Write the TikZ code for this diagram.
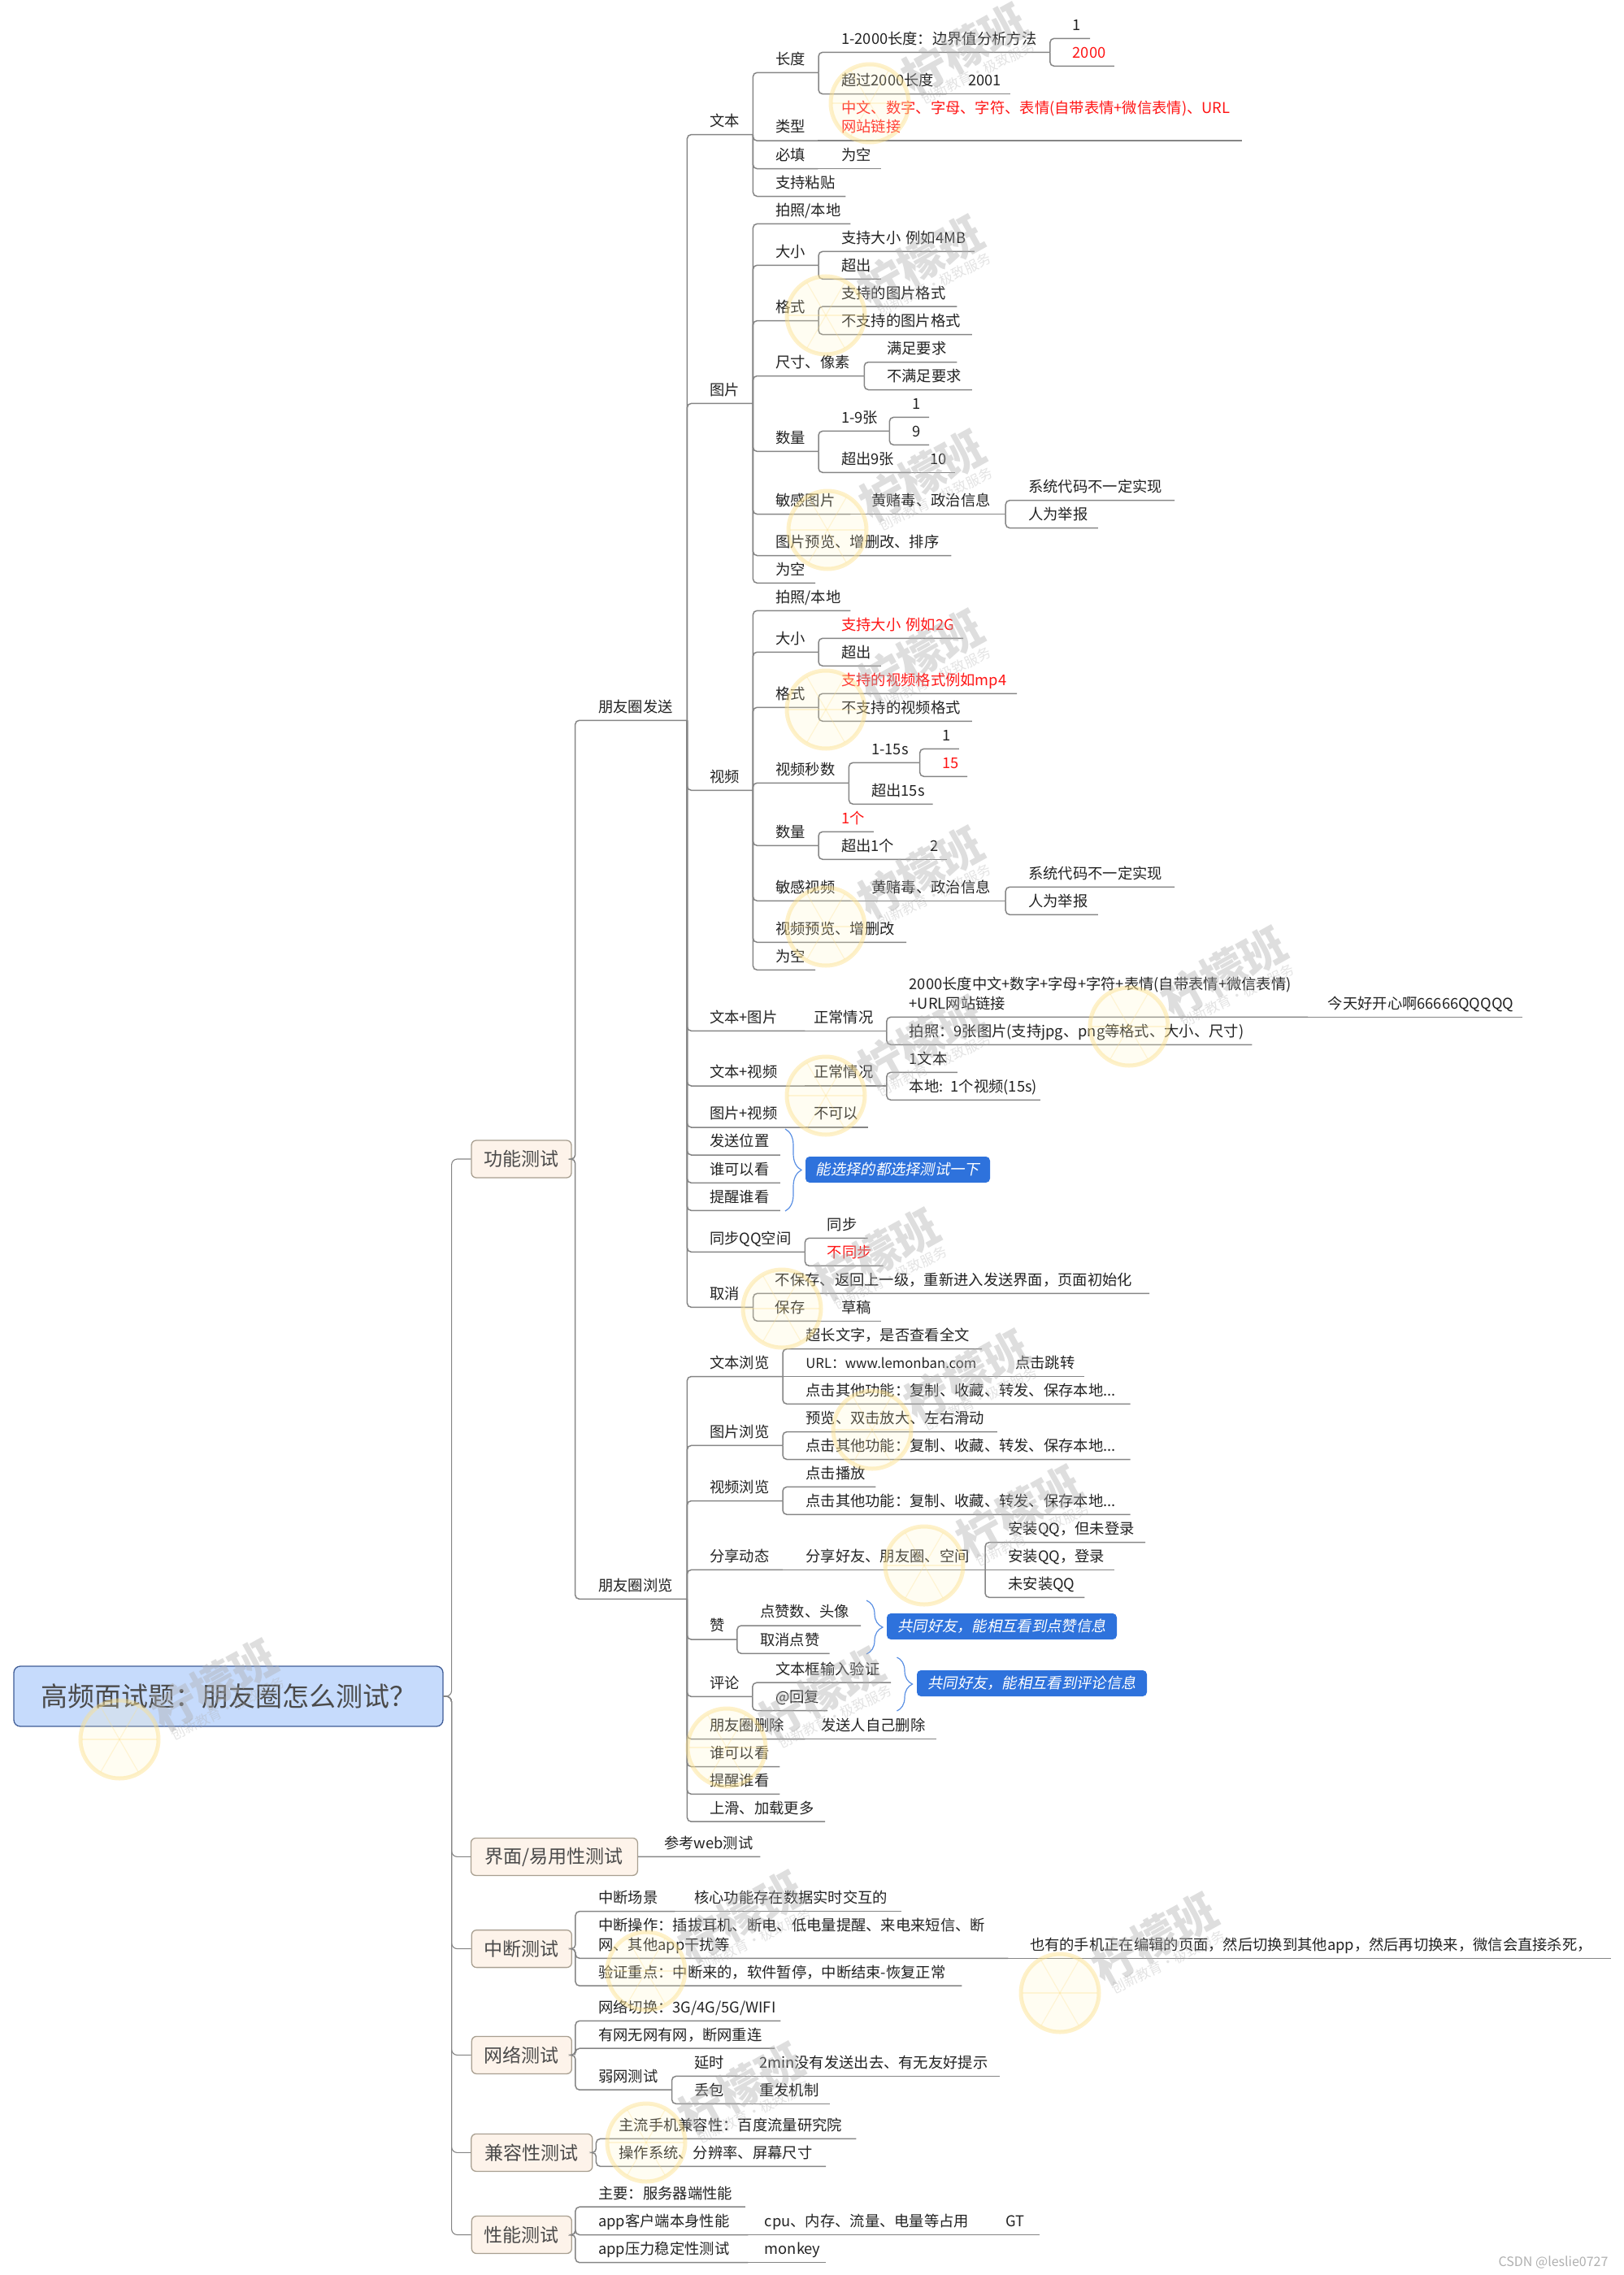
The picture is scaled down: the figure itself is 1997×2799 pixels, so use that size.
\documentclass[tikz,border=0pt]{standalone}
\usepackage{fontspec}
\setmainfont{Noto Sans CJK SC}
\newfontfamily\tagfont[FakeSlant=0.2]{Noto Sans CJK SC}
\usepackage{xcolor}
\usepackage{tikz}
\usetikzlibrary{decorations.pathreplacing}
\definecolor{ink}{HTML}{222222}
\definecolor{hotred}{HTML}{FF1414}
\definecolor{wiregrey}{HTML}{858585}
\definecolor{rootfill}{HTML}{C6DBFC}
\definecolor{rootedge}{HTML}{3F5C96}
\definecolor{rootink}{HTML}{4A4A4A}
\definecolor{topicfill}{HTML}{FDF3EA}
\definecolor{topicedge}{HTML}{A89F90}
\definecolor{tagblue}{HTML}{2E72DC}
\definecolor{stampgrey}{HTML}{B0B0B0}
\definecolor{lemonedge}{HTML}{FCE08A}
\definecolor{lemonfill}{HTML}{FFF3C0}

\begin{document}
\begin{tikzpicture}[
  x=1pt,y=-1pt,
  rootbox/.style={draw=rootedge,fill=rootfill,line width=1.3pt,rounded corners=8pt,text=rootink,
                  font=\fontsize{33}{38}\selectfont,minimum width=528pt,minimum height=74pt,inner sep=0pt},
  topic/.style={draw=topicedge,fill=topicfill,line width=1.3pt,rounded corners=6pt,text=rootink,
                font=\fontsize{23}{28}\selectfont,minimum width=#1pt,minimum height=46pt,inner sep=0pt},
  leaf/.style={anchor=south west,inner sep=0pt,text width=#1pt,align=left,text depth=10pt,
               font=\fontsize{18.3}{23.6}\selectfont,text=ink},
  twolines/.style={text depth=33.6pt},
  hot/.style={text=hotred},
  wire/.style={draw=wiregrey,line width=1.5pt,rounded corners=5pt},
  thinwire/.style={draw=wiregrey,line width=1.1pt,rounded corners=7pt},
  curly/.style={draw=tagblue!80,line width=1.2pt,decorate,decoration={brace,amplitude=#1pt}},
  tagnote/.style={fill=tagblue,rounded corners=5pt,text=white,font=\tagfont\fontsize{18.3}{23}\selectfont,
                  minimum width=#1pt,minimum height=32pt,inner sep=0pt},
  stamp/.style={text=stampgrey,opacity=.42,rotate=29,font=\fontsize{55}{60}\selectfont\bfseries},
  stampsub/.style={text=stampgrey,opacity=.35,rotate=26,font=\fontsize{17}{20}\selectfont},
  lemon/.style={draw=lemonedge,fill=lemonfill,line width=5pt,draw opacity=.45,fill opacity=.2},
  lemonspoke/.style={draw=lemonedge,line width=1.2pt,opacity=.3}
]
  \useasboundingbox (0,0) rectangle (1997,2799);

  \node[rootbox] (root) at (281,2087) {高频面试题：朋友圈怎么测试？};
  \coordinate (hub) at (555.6,2087);
  \node[topic=123] (func) at (641.5,1426) {功能测试};
  \node[topic=205] (ui) at (681.9,2284.4) {界面/易用性测试};
  \node[topic=123] (stop) at (641.8,2397.6) {中断测试};
  \node[topic=123] (net) at (641.8,2528.4) {网络测试};
  \node[topic=149] (compat) at (654.3,2648.4) {兼容性测试};
  \node[topic=123] (perf) at (641.8,2749.5) {性能测试};

  \draw[thinwire] (root.east) -- (hub) |- (func.west);
  \draw[thinwire] (root.east) -- (hub) |- (ui.west);
  \draw[thinwire] (root.east) -- (hub) |- (stop.west);
  \draw[thinwire] (root.east) -- (hub) |- (net.west);
  \draw[thinwire] (root.east) -- (hub) |- (compat.west);
  \draw[thinwire] (root.east) -- (hub) |- (perf.west);

  \node[leaf=109] (send) at (736,886.3) {朋友圈发送};
  \node[leaf=109] (browse) at (736,1967.3) {朋友圈浏览};
  \draw[wire] (func.east) -- ++(4,0) |- (send.south east);
  \draw[wire] (func.east) -- ++(4,0) |- (browse.south east);

  \node[leaf=53] (txt) at (873,165.6) {文本};
  \node[leaf=52.6] (txtLen) at (954,89.3) {长度};
  \node[leaf=256.4] (txtRange) at (1035,64.3) {1-2000长度：边界值分析方法};
  \node[leaf=21.2] (txtOne) at (1319.5,47.3) {1};
  \node[leaf=51,hot] (txtMax) at (1319.5,81.3) {2000};
  \node[leaf=129] (txtOver) at (1035,115.6) {超过2000长度};
  \node[leaf=51.6] (txtOverVal) at (1191,115.6) {2001};
  \node[leaf=52] (txtKind) at (954,173.2) {类型};
  \node[leaf=493,hot,twolines] (txtKindVal) at (1035,173.2) {中文、数字、字母、字符、表情(自带表情+微信表情)、URL\\网站链接};
  \node[leaf=52] (txtReq) at (954,207.6) {必填};
  \node[leaf=48.5] (txtReqVal) at (1035,207.6) {为空};
  \node[leaf=86] (txtPaste) at (954,241.5) {支持粘贴};

  \draw[wire] (send.south east) |- (txt.south east);
  \draw[wire] (txt.south east) |- (txtLen.south east);
  \draw[wire] (txtLen.south east) |- (txtRange.south east);
  \draw[wire] (txtRange.south east) |- (txtOne.south east);
  \draw[wire] (txtRange.south east) |- (txtMax.south east);
  \draw[wire] (txtLen.south east) |- (txtOver.south east);
  \draw[wire] (txtOver.south east) -- (txtOverVal.south east);
  \draw[wire] (txt.south east) |- (txtKind.south east);
  \draw[wire] (txtKind.south east) -- (txtKindVal.south east);
  \draw[wire] (txt.south east) |- (txtReq.south east);
  \draw[wire] (txtReq.south east) -- (txtReqVal.south east);
  \draw[wire] (txt.south east) |- (txtPaste.south east);

  \node[leaf=53] (pic) at (873,496.4) {图片};
  \node[leaf=92] (picSrc) at (954,275.4) {拍照/本地};
  \node[leaf=52.6] (picSize) at (954,326.3) {大小};
  \node[leaf=163.4] (picSizeOk) at (1035,309.4) {支持大小 例如4MB};
  \node[leaf=48.5] (picSizeOver) at (1035,343.3) {超出};
  \node[leaf=52.6] (picFmt) at (954,394.6) {格式};
  \node[leaf=142] (picFmtOk) at (1035,377.2) {支持的图片格式};
  \node[leaf=160.5] (picFmtBad) at (1035,411.6) {不支持的图片格式};
  \node[leaf=108.9] (picDim) at (954,462.5) {尺寸、像素};
  \node[leaf=86] (picDimOk) at (1091,445.5) {满足要求};
  \node[leaf=104.5] (picDimBad) at (1091,479.5) {不满足要求};
  \node[leaf=52.6] (picNum) at (954,555.4) {数量};
  \node[leaf=58.9] (picNumOk) at (1035,530.4) {1-9张};
  \node[leaf=20.7] (picNumMin) at (1122,513.4) {1};
  \node[leaf=20.7] (picNumMax) at (1122,547.3) {9};
  \node[leaf=85] (picNumOver) at (1035,581.3) {超出9张};
  \node[leaf=31] (picNumVal) at (1143.8,581.3) {10};
  \node[leaf=92] (picRisk) at (954,632.6) {敏感图片};
  \node[leaf=164.8] (picRiskVal) at (1072,632.6) {黄赌毒、政治信息};
  \node[leaf=179.6] (picRiskSys) at (1265,615.6) {系统代码不一定实现};
  \node[leaf=85.5] (picRiskMan) at (1265,649.6) {人为举报};
  \node[leaf=216] (picEdit) at (954,683.5) {图片预览、增删改、排序};
  \node[leaf=48.6] (picNone) at (954,717.3) {为空};

  \draw[wire] (send.south east) |- (pic.south east);
  \draw[wire] (pic.south east) |- (picSrc.south east);
  \draw[wire] (pic.south east) |- (picSize.south east);
  \draw[wire] (picSize.south east) |- (picSizeOk.south east);
  \draw[wire] (picSize.south east) |- (picSizeOver.south east);
  \draw[wire] (pic.south east) |- (picFmt.south east);
  \draw[wire] (picFmt.south east) |- (picFmtOk.south east);
  \draw[wire] (picFmt.south east) |- (picFmtBad.south east);
  \draw[wire] (pic.south east) |- (picDim.south east);
  \draw[wire] (picDim.south east) |- (picDimOk.south east);
  \draw[wire] (picDim.south east) |- (picDimBad.south east);
  \draw[wire] (pic.south east) |- (picNum.south east);
  \draw[wire] (picNum.south east) |- (picNumOk.south east);
  \draw[wire] (picNumOk.south east) |- (picNumMin.south east);
  \draw[wire] (picNumOk.south east) |- (picNumMax.south east);
  \draw[wire] (picNum.south east) |- (picNumOver.south east);
  \draw[wire] (picNumOver.south east) -- (picNumVal.south east);
  \draw[wire] (pic.south east) |- (picRisk.south east);
  \draw[wire] (picRisk.south east) -- (picRiskVal.south east);
  \draw[wire] (picRiskVal.south east) |- (picRiskSys.south east);
  \draw[wire] (picRiskVal.south east) |- (picRiskMan.south east);
  \draw[wire] (pic.south east) |- (picEdit.south east);
  \draw[wire] (pic.south east) |- (picNone.south east);

  \node[leaf=53] (vid) at (873,972.3) {视频};
  \node[leaf=92] (vidSrc) at (954,751.3) {拍照/本地};
  \node[leaf=52.6] (vidSize) at (954,802.3) {大小};
  \node[leaf=149.6,hot] (vidSizeOk) at (1035,785.3) {支持大小 例如2G};
  \node[leaf=48.5] (vidSizeOver) at (1035,819.3) {超出};
  \node[leaf=52.6] (vidFmt) at (954,870.3) {格式};
  \node[leaf=215.6,hot] (vidFmtOk) at (1035,853.3) {支持的视频格式例如mp4};
  \node[leaf=160.5] (vidFmtBad) at (1035,887.3) {不支持的视频格式};
  \node[leaf=90] (vidSec) at (954,963.3) {视频秒数};
  \node[leaf=59.2] (vidSecOk) at (1072,938.3) {1-15s};
  \node[leaf=20.1] (vidSecMin) at (1159.3,921.3) {1};
  \node[leaf=30.5,hot] (vidSecMax) at (1159.3,955.3) {15};
  \node[leaf=75.3] (vidSecOver) at (1072,989.3) {超出15s};
  \node[leaf=52.6] (vidNum) at (954,1040.3) {数量};
  \node[leaf=39.4,hot] (vidNumOk) at (1035,1023.3) {1个};
  \node[leaf=85] (vidNumOver) at (1035,1057.3) {超出1个};
  \node[leaf=21.2] (vidNumVal) at (1143.8,1057.3) {2};
  \node[leaf=92] (vidRisk) at (954,1108.3) {敏感视频};
  \node[leaf=164.8] (vidRiskVal) at (1072,1108.3) {黄赌毒、政治信息};
  \node[leaf=179.6] (vidRiskSys) at (1265,1091.3) {系统代码不一定实现};
  \node[leaf=85.5] (vidRiskMan) at (1265,1125.3) {人为举报};
  \node[leaf=160.6] (vidEdit) at (954,1159.3) {视频预览、增删改};
  \node[leaf=48.6] (vidNone) at (954,1193.3) {为空};

  \draw[wire] (send.south east) |- (vid.south east);
  \draw[wire] (vid.south east) |- (vidSrc.south east);
  \draw[wire] (vid.south east) |- (vidSize.south east);
  \draw[wire] (vidSize.south east) |- (vidSizeOk.south east);
  \draw[wire] (vidSize.south east) |- (vidSizeOver.south east);
  \draw[wire] (vid.south east) |- (vidFmt.south east);
  \draw[wire] (vidFmt.south east) |- (vidFmtOk.south east);
  \draw[wire] (vidFmt.south east) |- (vidFmtBad.south east);
  \draw[wire] (vid.south east) |- (vidSec.south east);
  \draw[wire] (vidSec.south east) |- (vidSecOk.south east);
  \draw[wire] (vidSecOk.south east) |- (vidSecMin.south east);
  \draw[wire] (vidSecOk.south east) |- (vidSecMax.south east);
  \draw[wire] (vidSec.south east) |- (vidSecOver.south east);
  \draw[wire] (vid.south east) |- (vidNum.south east);
  \draw[wire] (vidNum.south east) |- (vidNumOk.south east);
  \draw[wire] (vidNum.south east) |- (vidNumOver.south east);
  \draw[wire] (vidNumOver.south east) -- (vidNumVal.south east);
  \draw[wire] (vid.south east) |- (vidRisk.south east);
  \draw[wire] (vidRisk.south east) -- (vidRiskVal.south east);
  \draw[wire] (vidRiskVal.south east) |- (vidRiskSys.south east);
  \draw[wire] (vidRiskVal.south east) |- (vidRiskMan.south east);
  \draw[wire] (vid.south east) |- (vidEdit.south east);
  \draw[wire] (vid.south east) |- (vidNone.south east);

  \node[leaf=117] (txtPic) at (873,1268.3) {文本+图片};
  \node[leaf=89.5] (txtPicVal) at (1001,1268.3) {正常情况};
  \node[leaf=490,twolines] (txtPicA) at (1118.6,1251.3) {2000长度中文+数字+字母+字符+表情(自带表情+微信表情)\\+URL网站链接};
  \node[leaf=238.8] (txtPicEg) at (1633.6,1251.3) {今天好开心啊66666QQQQQ};
  \node[leaf=421.4] (txtPicB) at (1118.6,1285.3) {拍照：9张图片(支持jpg、png等格式、大小、尺寸)};
  \node[leaf=117] (txtVid) at (873,1336) {文本+视频};
  \node[leaf=89.5] (txtVidVal) at (1001,1336) {正常情况};
  \node[leaf=58.9] (txtVidA) at (1118.6,1319.3) {1文本};
  \node[leaf=160.9] (txtVidB) at (1118.6,1353.3) {本地: 1个视频(15s)};
  \node[leaf=117] (picVid) at (873,1387) {图片+视频};
  \node[leaf=67] (picVidVal) at (1001,1387) {不可以};
  \node[leaf=86.4] (sendWhere) at (873,1421) {发送位置};
  \node[leaf=86.4] (sendWho) at (873,1455.3) {谁可以看};
  \node[leaf=86.4] (sendAt) at (873,1489.3) {提醒谁看};
  \node[tagnote=227] (tagChoose) at (1104.5,1439) {能选择的都选择测试一下};
  \coordinate (chooseTop) at (966,1389);
  \coordinate (chooseEnd) at (966,1490);
  \node[leaf=117] (qq) at (873,1540.3) {同步QQ空间};
  \node[leaf=49.7] (qqYes) at (1017.5,1523.3) {同步};
  \node[leaf=68.8,hot] (qqNo) at (1017.5,1557.3) {不同步};
  \node[leaf=53.3] (cancel) at (873,1608.3) {取消};
  \node[leaf=460.2] (cancelDrop) at (953.6,1591.3) {不保存、返回上一级，重新进入发送界面，页面初始化};
  \node[leaf=54] (cancelKeep) at (953.6,1625.3) {保存};
  \node[leaf=48.8] (cancelDraft) at (1035,1625.3) {草稿};

  \draw[wire] (send.south east) |- (txtPic.south east);
  \draw[wire] (txtPic.south east) -- (txtPicVal.south east);
  \draw[wire] (txtPicVal.south east) |- (txtPicA.south east);
  \draw[wire] (txtPicA.south east) -- (txtPicEg.south east);
  \draw[wire] (txtPicVal.south east) |- (txtPicB.south east);
  \draw[wire] (send.south east) |- (txtVid.south east);
  \draw[wire] (txtVid.south east) -- (txtVidVal.south east);
  \draw[wire] (txtVidVal.south east) |- (txtVidA.south east);
  \draw[wire] (txtVidVal.south east) |- (txtVidB.south east);
  \draw[wire] (send.south east) |- (picVid.south east);
  \draw[wire] (picVid.south east) -- (picVidVal.south east);
  \draw[wire] (send.south east) |- (sendWhere.south east);
  \draw[wire] (send.south east) |- (sendWho.south east);
  \draw[wire] (send.south east) |- (sendAt.south east);
  \draw[curly=20] (chooseTop) -- (chooseEnd);
  \draw[wire] (send.south east) |- (qq.south east);
  \draw[wire] (qq.south east) |- (qqYes.south east);
  \draw[wire] (qq.south east) |- (qqNo.south east);
  \draw[wire] (send.south east) |- (cancel.south east);
  \draw[wire] (cancel.south east) |- (cancelDrop.south east);
  \draw[wire] (cancel.south east) |- (cancelKeep.south east);
  \draw[wire] (cancelKeep.south east) -- (cancelDraft.south east);

  \node[leaf=89.6] (viewTxt) at (873,1693.5) {文本浏览};
  \node[leaf=216.4] (viewTxtLong) at (991.2,1659.6) {超长文字，是否查看全文};
  \node[leaf=234,font=\fontsize{16.7}{23.6}\selectfont] (viewTxtUrl) at (991.2,1693.5) {URL：www.lemonban.com};
  \node[leaf=85.1] (viewTxtJump) at (1248.9,1693.5) {点击跳转};
  \node[leaf=399] (viewTxtMore) at (991.2,1727.3) {点击其他功能：复制、收藏、转发、保存本地...};
  \node[leaf=89.6] (viewPic) at (873,1778.4) {图片浏览};
  \node[leaf=235.2] (viewPicZoom) at (991.2,1761.6) {预览、双击放大、左右滑动};
  \node[leaf=399] (viewPicMore) at (991.2,1795.5) {点击其他功能：复制、收藏、转发、保存本地...};
  \node[leaf=89.6] (viewVid) at (873,1846.5) {视频浏览};
  \node[leaf=85.8] (viewVidPlay) at (991.2,1829.4) {点击播放};
  \node[leaf=399] (viewVidMore) at (991.2,1863.3) {点击其他功能：复制、收藏、转发、保存本地...};
  \node[leaf=89.6] (share) at (873,1931.4) {分享动态};
  \node[leaf=220.4] (shareTo) at (991.2,1931.4) {分享好友、朋友圈、空间};
  \node[leaf=168.4] (shareA) at (1240.2,1897.6) {安装QQ，但未登录};
  \node[leaf=130.1] (shareB) at (1240.2,1931.4) {安装QQ，登录};
  \node[leaf=93.8] (shareC) at (1240.2,1965.3) {未安装QQ};
  \node[leaf=33.5] (like) at (873,2017.1) {赞};
  \node[leaf=123.5] (likeNum) at (935.1,2000) {点赞数、头像};
  \node[leaf=85.2] (likeOff) at (935.1,2034.3) {取消点赞};
  \node[tagnote=283] (tagLike) at (1232.5,2001) {共同好友，能相互看到点赞信息};
  \coordinate (likeTop) at (1066,1969);
  \coordinate (likeEnd) at (1066,2035);
  \node[leaf=52.4] (reply) at (873,2087.3) {评论};
  \node[leaf=141.8] (replyBox) at (954,2070.2) {文本框输入验证};
  \node[leaf=63.8] (replyAt) at (954,2104.5) {@回复};
  \node[tagnote=283] (tagReply) at (1269.5,2071) {共同好友，能相互看到评论信息};
  \coordinate (replyTop) at (1103.5,2039);
  \coordinate (replyEnd) at (1103.5,2105);
  \node[leaf=117] (erase) at (873,2139.6) {朋友圈删除};
  \node[leaf=141.4] (eraseBy) at (1010,2139.6) {发送人自己删除};
  \node[leaf=86] (viewWho) at (873,2173.5) {谁可以看};
  \node[leaf=86] (viewAt) at (873,2207.3) {提醒谁看};
  \node[leaf=141.7] (viewLoad) at (873,2241.2) {上滑、加载更多};

  \draw[wire] (browse.south east) |- (viewTxt.south east);
  \draw[wire] (viewTxt.south east) |- (viewTxtLong.south east);
  \draw[wire] (viewTxt.south east) -- (viewTxtUrl.south east);
  \draw[wire] (viewTxtUrl.south east) -- (viewTxtJump.south east);
  \draw[wire] (viewTxt.south east) |- (viewTxtMore.south east);
  \draw[wire] (browse.south east) |- (viewPic.south east);
  \draw[wire] (viewPic.south east) |- (viewPicZoom.south east);
  \draw[wire] (viewPic.south east) |- (viewPicMore.south east);
  \draw[wire] (browse.south east) |- (viewVid.south east);
  \draw[wire] (viewVid.south east) |- (viewVidPlay.south east);
  \draw[wire] (viewVid.south east) |- (viewVidMore.south east);
  \draw[wire] (browse.south east) |- (share.south east);
  \draw[wire] (share.south east) -- (shareTo.south east);
  \draw[wire] (shareTo.south east) |- (shareA.south east);
  \draw[wire] (shareTo.south east) -- (shareB.south east);
  \draw[wire] (shareTo.south east) |- (shareC.south east);
  \draw[wire] (browse.south east) |- (like.south east);
  \draw[wire] (like.south east) |- (likeNum.south east);
  \draw[wire] (like.south east) |- (likeOff.south east);
  \draw[curly=20] (likeTop) -- (likeEnd);
  \draw[wire] (browse.south east) |- (reply.south east);
  \draw[wire] (reply.south east) |- (replyBox.south east);
  \draw[wire] (reply.south east) |- (replyAt.south east);
  \draw[curly=19] (replyTop) -- (replyEnd);
  \draw[wire] (browse.south east) |- (erase.south east);
  \draw[wire] (erase.south east) -- (eraseBy.south east);
  \draw[wire] (browse.south east) |- (viewWho.south east);
  \draw[wire] (browse.south east) |- (viewAt.south east);
  \draw[wire] (browse.south east) |- (viewLoad.south east);

  \node[leaf=118] (uiRef) at (817,2284.3) {参考web测试};
  \draw[wire] (ui.east) -- (uiRef.south east);

  \node[leaf=94] (stopWhen) at (736,2351.6) {中断场景};
  \node[leaf=254.8] (stopWhenVal) at (854,2351.6) {核心功能存在数据实时交互的};
  \node[leaf=504,twolines] (stopHow) at (736,2409.3) {中断操作：插拔耳机、断电、低电量提醒、来电来短信、断\\网、其他app干扰等};
  \node[leaf=714.7] (stopNote) at (1266.8,2409.3) {也有的手机正在编辑的页面，然后切换到其他app，然后再切换来，微信会直接杀死，};
  \node[leaf=447] (stopCheck) at (736,2443.2) {验证重点：中断来的，软件暂停，中断结束-恢复正常};

  \draw[wire] (stop.east) -- ++(4,0) |- (stopWhen.south east);
  \draw[wire] (stopWhen.south east) -- (stopWhenVal.south east);
  \draw[wire] (stop.east) -- ++(4,0) |- (stopHow.south east);
  \draw[wire] (stopHow.south east) -- (stopNote.south east);
  \draw[wire] (stop.east) -- ++(4,0) |- (stopCheck.south east);

  \node[leaf=224] (netSwitch) at (736,2486.3) {网络切换：3G/4G/5G/WIFI};
  \node[leaf=216.6] (netDrop) at (736,2520.2) {有网无网有网，断网重连};
  \node[leaf=90.2] (netWeak) at (736,2571.2) {弱网测试};
  \node[leaf=56] (netLag) at (854,2554.4) {延时};
  \node[leaf=295.6] (netLagVal) at (934,2554.4) {2min没有发送出去、有无友好提示};
  \node[leaf=56] (netLoss) at (854,2588.3) {丢包};
  \node[leaf=86.5] (netLossVal) at (934,2588.3) {重发机制};

  \draw[wire] (net.east) -- ++(4,0) |- (netSwitch.south east);
  \draw[wire] (net.east) -- ++(4,0) |- (netDrop.south east);
  \draw[wire] (net.east) -- ++(4,0) |- (netWeak.south east);
  \draw[wire] (netWeak.south east) |- (netLag.south east);
  \draw[wire] (netLag.south east) -- (netLagVal.south east);
  \draw[wire] (netWeak.south east) |- (netLoss.south east);
  \draw[wire] (netLoss.south east) -- (netLossVal.south east);

  \node[leaf=291.8] (compatPhone) at (761.2,2631.4) {主流手机兼容性：百度流量研究院};
  \node[leaf=254.6] (compatSys) at (761.2,2665.3) {操作系统、分辨率、屏幕尺寸};
  \draw[wire] (compat.east) -- ++(4,0) |- (compatPhone.south east);
  \draw[wire] (compat.east) -- ++(4,0) |- (compatSys.south east);

  \node[leaf=180.4] (perfMain) at (736,2715.2) {主要：服务器端性能};
  \node[leaf=184] (perfApp) at (736,2749.5) {app客户端本身性能};
  \node[leaf=274.4] (perfAppVal) at (940.6,2749.5) {cpu、内存、流量、电量等占用};
  \node[leaf=41.8] (perfAppTool) at (1237,2749.5) {GT};
  \node[leaf=184] (perfLoad) at (736,2783.7) {app压力稳定性测试};
  \node[leaf=75.2] (perfLoadTool) at (940.6,2783.7) {monkey};

  \draw[wire] (perf.east) -- ++(4,0) |- (perfMain.south east);
  \draw[wire] (perf.east) -- ++(4,0) |- (perfApp.south east);
  \draw[wire] (perfApp.south east) -- (perfAppVal.south east);
  \draw[wire] (perfAppVal.south east) -- (perfAppTool.south east);
  \draw[wire] (perf.east) -- ++(4,0) |- (perfLoad.south east);
  \draw[wire] (perfLoad.south east) -- (perfLoadTool.south east);

  \node[anchor=east,text=stampgrey,font=\fontsize{16}{20}\selectfont] (credit) at (1982,2783) {CSDN @leslie0727};

  \foreach \mx/\my [count=\k] in {1186/60,1132/321,1134/585,1132/806,1132/1073,1505/1196,1132/1281,1078/1543,
                                  1189/1692,1253/1859,1010/2083,263/2073,911/2358,1420/2385,911/2569} {
    \draw[lemon] (\mx-116,\my+67) circle (48);
    \foreach \sa in {0,60,...,300}
      \draw[lemonspoke] (\mx-116,\my+67) -- ++(\sa:46);
    \node[stamp] (stamp\k) at (\mx,\my) {柠檬班};
    \node[stampsub] (stampsub\k) at (\mx+17,\my+29) {创新教育·极致服务};
  }
\end{tikzpicture}
\end{document}
